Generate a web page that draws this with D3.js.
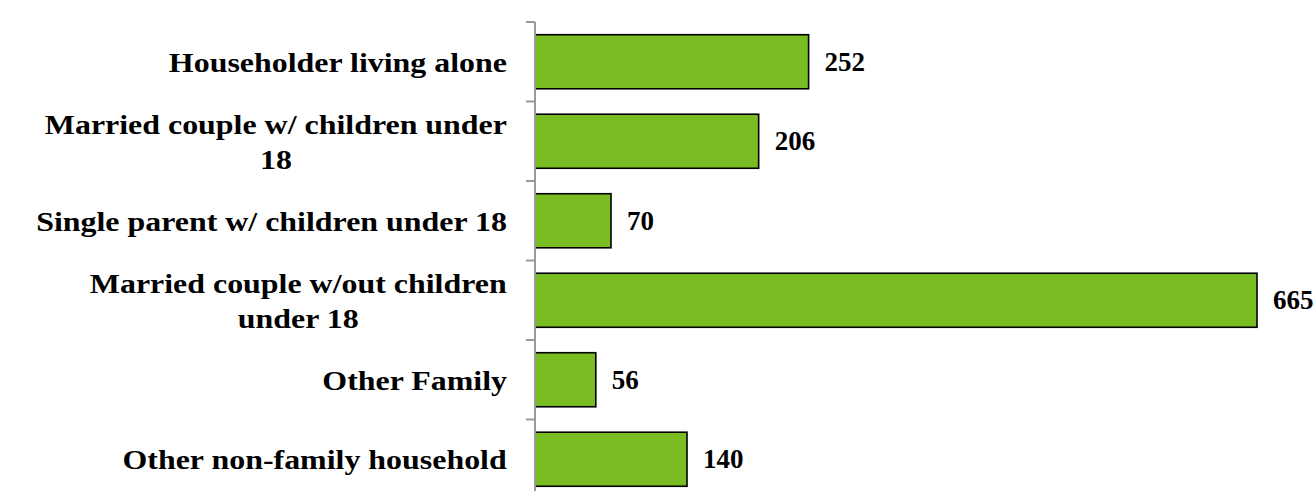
<!DOCTYPE html>
<html><head><meta charset="utf-8">
<script src="https://cdn.jsdelivr.net/npm/d3@7"></script>
<style>html,body{margin:0;padding:0;background:#fff;}svg{display:block;}</style>
</head><body>
<svg id="c" width="1315" height="491"></svg>
<script>
const categories = [
  ["Householder living alone"],
  ["Married couple w/ children under", "18"],
  ["Single parent w/ children under 18"],
  ["Married couple w/out children", "under 18"],
  ["Other Family"],
  ["Other non-family household"]
];
const values = [252, 206, 70, 665, 56, 140];
const keys = categories.map(c => c.join(" "));

const svg = d3.select("#c");
const x = d3.scaleLinear().domain([0, 700]).range([535, 1295]);
const y = d3.scaleBand().domain(keys).range([22, 499]).paddingInner(0.32).paddingOuter(0.16);
const ff = '"Liberation Serif", "Times New Roman", serif';

svg.append("g").selectAll("rect").data(values).join("rect")
  .attr("x", x(0))
  .attr("y", (d, i) => y(keys[i]))
  .attr("width", d => x(d) - x(0))
  .attr("height", y.bandwidth())
  .attr("fill", "#79bd23")
  .attr("stroke", "#000")
  .attr("stroke-width", 1.6);

const step = y.step();
const tickYs = d3.range(keys.length + 1).map(i => 22 + i * step);
const ax = svg.append("g").attr("stroke", "#989898").attr("stroke-width", 2);
ax.append("line").attr("x1", x(0)).attr("x2", x(0)).attr("y1", 22).attr("y2", 499);
ax.selectAll("line.t").data(tickYs).join("line").attr("class", "t")
  .attr("x1", x(0) - 9).attr("x2", x(0)).attr("y1", d => d).attr("y2", d => d);

const sx = 1.14;
const lab = svg.append("g");
categories.forEach((lines, i) => {
  const cy = y(keys[i]) + y.bandwidth() / 2;
  const lh = 35;
  const n = lines.length;
  const t = lab.append("text").attr("text-anchor", "middle").attr("dominant-baseline", "central")
    .style("font-family", ff).style("font-weight", "bold").style("font-size", "28px");
  lines.forEach((s, j) => {
    t.append("tspan").attr("x", 0).attr("y", cy + (j - (n - 1) / 2) * lh).text(s);
  });
  const w = t.node().getBBox().width * sx;
  t.attr("transform", `translate(${507 - w / 2},0) scale(${sx},1)`);
});

svg.append("g").selectAll("text").data(values).join("text")
  .attr("x", d => x(d) + 16)
  .attr("y", (d, i) => y(keys[i]) + y.bandwidth() / 2)
  .attr("dominant-baseline", "central")
  .style("font-family", ff).style("font-weight", "bold").style("font-size", "27px")
  .text(d => d);
</script>
</body></html>
